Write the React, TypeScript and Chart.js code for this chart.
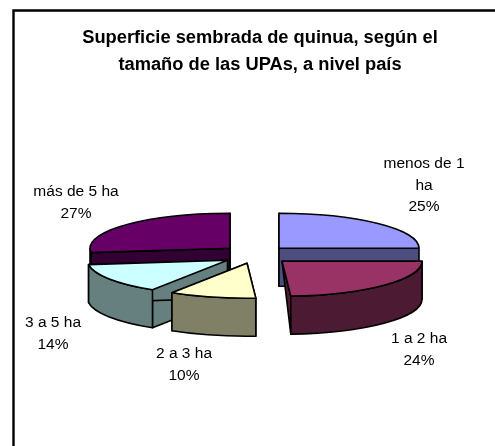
import React, { useEffect, useRef } from "react";
import { Chart, registerables } from "chart.js";

Chart.register(...registerables);

const categories = ["menos de 1 ha", "1 a 2 ha", "2 a 3 ha", "3 a 5 ha", "más de 5 ha"];
const shares = [25, 24, 10, 14, 27];
const titleLines = ["Superficie sembrada de quinua, según el", "tamaño de las UPAs, a nivel país"];
const labelLines = [["menos de 1", "ha"], ["1 a 2 ha"], ["2 a 3 ha"], ["3 a 5 ha"], ["más de 5 ha"]];

const topColors = ["#9999FF", "#993366", "#FFFFCC", "#CCFFFF", "#660066"];
const sideColors = ["#4D4D80", "#4D1A33", "#808066", "#668080", "#330033"];

// Pie is drawn as a tilted, extruded disc: styling constants, not data.
const TILT = 0.25;
const DEPTH = 38;
const DRAW_ORDER = [4, 0, 3, 2, 1];
const EXPLODE = [[19, -14], [22, -1], [-13, 1], [-32.5, -2], [-30, -14]];
const APEX_DEPTH = [DEPTH, 0, DEPTH, DEPTH, DEPTH];
const LABEL_POS = [[424, 164], [419, 339], [184, 354], [53, 323], [76, 192]];
const LABEL_LEADING = 21.5;

const pie3d = {
  id: "pie3d",
  beforeDatasetDraw(chart: any) {
    const ctx = chart.ctx;
    const arcs = chart.getDatasetMeta(0).data;
    ctx.save();
    ctx.lineWidth = 1.6;
    ctx.strokeStyle = "#000";
    ctx.lineJoin = "round";
    for (const i of DRAW_ORDER) {
      const arc = arcs[i];
      const { startAngle: s, endAngle: e, outerRadius: a } = arc;
      const b = a * TILT;
      const cx = arc.x + EXPLODE[i][0];
      const cy = arc.y + EXPLODE[i][1];
      const pt = (t: number) => [cx + a * Math.cos(t), cy + b * Math.sin(t)];
      ctx.fillStyle = sideColors[i];
      // cut faces
      for (const t of [s, e]) {
        const [px, py] = pt(t);
        ctx.beginPath();
        ctx.moveTo(cx, cy);
        ctx.lineTo(px, py);
        ctx.lineTo(px, py + DEPTH);
        ctx.lineTo(cx, cy + APEX_DEPTH[i]);
        ctx.closePath();
        ctx.fill();
        ctx.stroke();
      }
      // outer wall
      const lo = Math.max(s, 0);
      const hi = Math.min(e, Math.PI);
      if (hi > lo) {
        ctx.beginPath();
        ctx.ellipse(cx, cy, a, b, 0, lo, hi);
        ctx.ellipse(cx, cy + DEPTH, a, b, 0, hi, lo, true);
        ctx.closePath();
        ctx.fill();
        ctx.stroke();
      }
      // top
      ctx.fillStyle = topColors[i];
      ctx.beginPath();
      ctx.moveTo(cx, cy);
      ctx.ellipse(cx, cy, a, b, 0, s, e);
      ctx.closePath();
      ctx.fill();
      ctx.stroke();
    }
    ctx.restore();
    return false;
  },
  afterDraw(chart: any) {
    const ctx = chart.ctx;
    ctx.save();
    // frame
    ctx.strokeStyle = "#000";
    ctx.lineWidth = 2.4;
    ctx.beginPath();
    ctx.moveTo(13.5, 446);
    ctx.lineTo(13.5, 10.5);
    ctx.lineTo(495, 10.5);
    ctx.stroke();
    // labels
    ctx.fillStyle = "#000";
    ctx.font = "15.5px 'Liberation Sans', Arial, sans-serif";
    ctx.textAlign = "center";
    ctx.textBaseline = "middle";
    categories.forEach((_, i) => {
      const lines = [...labelLines[i], `${shares[i]}%`];
      lines.forEach((line, k) => {
        ctx.fillText(line, LABEL_POS[i][0], LABEL_POS[i][1] + k * LABEL_LEADING);
      });
    });
    ctx.restore();
  },
};

export default function App() {
  const ref = useRef<HTMLCanvasElement>(null);
  useEffect(() => {
    const chart = new Chart(ref.current!, {
      type: "pie",
      data: {
        labels: categories,
        datasets: [{ data: shares, backgroundColor: topColors, radius: 140 } as any],
      },
      options: {
        responsive: false,
        animation: false,
        rotation: 0,
        layout: { padding: { left: 25, right: 0, top: 25, bottom: 0 } },
        plugins: {
          legend: { display: false },
          tooltip: { enabled: false },
          title: {
            display: true,
            text: titleLines,
            color: "#000",
            font: { family: "'Liberation Sans', Arial, sans-serif", size: 18.3, weight: "bold", lineHeight: 1.46 },
            padding: { top: 0, bottom: 0 },
          },
        },
      },
      plugins: [pie3d],
    } as any);
    return () => chart.destroy();
  }, []);
  return (
    <div style={{ position: "absolute", left: 0, top: 0, width: 495, height: 446, background: "#fff" }}>
      <canvas ref={ref} width={495} height={446} style={{ display: "block" }} />
    </div>
  );
}
